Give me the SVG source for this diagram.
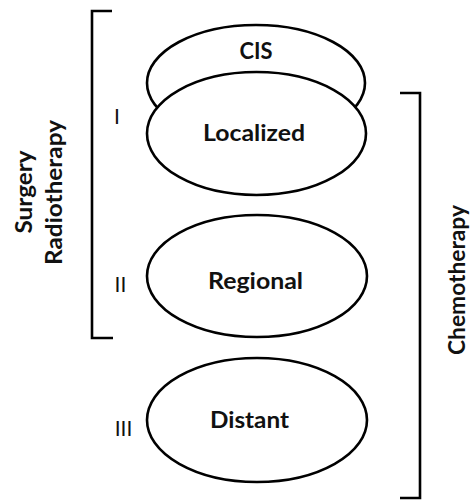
<svg xmlns="http://www.w3.org/2000/svg" width="472" height="504" viewBox="0 0 472 504">
<style>
.node{fill:#fff;stroke:#000;stroke-width:2.6}
.br{fill:none;stroke:#000;stroke-width:2.6}
.lbl{font-family:Lato,"Liberation Sans",sans-serif;font-weight:bold;font-size:23.5px;fill:#111;text-anchor:middle}
.num{font-family:Lato,"Liberation Sans",sans-serif;font-size:21px;fill:#111;text-anchor:middle}
</style>
<rect width="472" height="504" fill="#fff"/>
<g id="connectors">
<path class="br" d="M112,11 H92 V338 H113"/>
<path class="br" d="M400,93 H420 V498 H400"/>
</g>
<g id="cis">
<ellipse class="node" cx="256" cy="83" rx="109" ry="58"/>
<text class="lbl" x="256" y="59" textLength="33" lengthAdjust="spacingAndGlyphs">CIS</text>
</g>
<g id="localized">
<ellipse class="node" cx="256.5" cy="133.5" rx="109.5" ry="61.5"/>
<text class="lbl" x="254" y="141" textLength="102" lengthAdjust="spacingAndGlyphs">Localized</text>
</g>
<g id="regional">
<ellipse class="node" cx="257" cy="276" rx="110" ry="61"/>
<text class="lbl" x="255.5" y="289" textLength="95" lengthAdjust="spacingAndGlyphs">Regional</text>
</g>
<g id="distant">
<ellipse class="node" cx="257" cy="420" rx="110" ry="62"/>
<text class="lbl" x="249.5" y="428" textLength="79" lengthAdjust="spacingAndGlyphs">Distant</text>
</g>
<g id="stage-labels">
<text class="num" x="117" y="124">I</text>
<text class="num" x="120.5" y="292">II</text>
<text class="num" x="123.5" y="436">III</text>
</g>
<g id="treatments">
<text class="lbl" transform="translate(32,192) rotate(-90)" textLength="83" lengthAdjust="spacingAndGlyphs">Surgery</text>
<text class="lbl" transform="translate(62,192.5) rotate(-90)" textLength="145" lengthAdjust="spacingAndGlyphs">Radiotherapy</text>
<text class="lbl" transform="translate(465,280) rotate(-90)" textLength="150" lengthAdjust="spacingAndGlyphs">Chemotherapy</text>
</g>
</svg>
